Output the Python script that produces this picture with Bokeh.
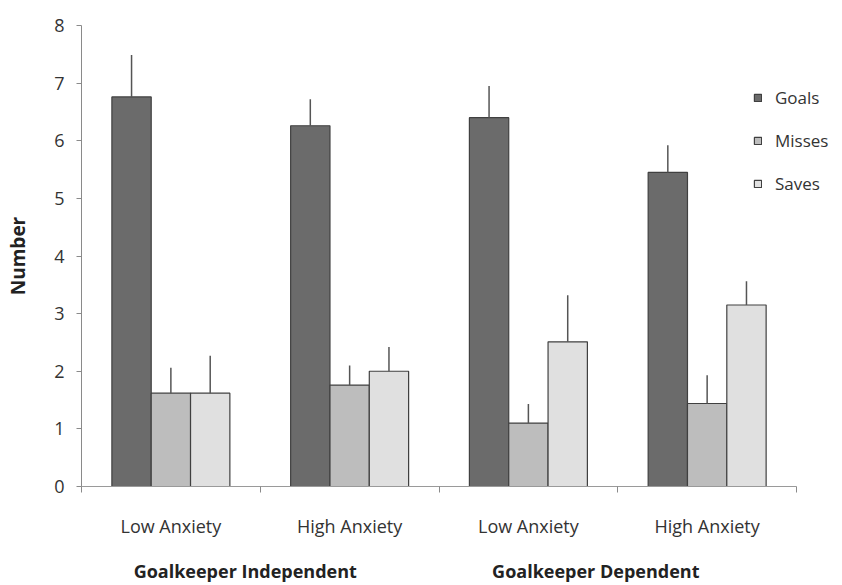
from bokeh.plotting import figure
from bokeh.models import (ColumnDataSource, Range1d, LinearAxis, FixedTicker,
                          Legend, LegendItem)
from bokeh.embed import file_html
from bokeh.resources import INLINE

conditions = ["Low Anxiety", "High Anxiety", "Low Anxiety", "High Anxiety"]
groups = ["Goalkeeper Independent", "Goalkeeper Dependent"]
series = ["Goals", "Misses", "Saves"]
goals = [6.76, 6.26, 6.40, 5.45]
goals_err = [0.73, 0.46, 0.55, 0.47]
misses = [1.62, 1.76, 1.10, 1.44]
misses_err = [0.44, 0.34, 0.33, 0.49]
saves = [1.62, 2.00, 2.51, 3.15]
saves_err = [0.65, 0.42, 0.81, 0.41]

colors = ["#6b6b6b", "#bdbdbd", "#e0e0e0"]
FONT = "Open Sans"

p = figure(width=840, height=585, output_backend="svg", toolbar_location=None,
           x_range=Range1d(0, 4.246), y_range=Range1d(0, 8),
           min_border_left=81, min_border_right=0, min_border_top=25,
           min_border_bottom=82, x_axis_location=None, y_axis_location=None)
p.xgrid.visible = False
p.ygrid.visible = False
p.outline_line_color = None

width = 0.22
offsets = [-width, 0.0, width]
renderers = []
for vals, errs, col, off in zip([goals, misses, saves],
                                [goals_err, misses_err, saves_err],
                                colors, offsets):
    xs = [i + 0.5 + off for i in range(len(conditions))]
    src = ColumnDataSource(dict(x=xs, top=vals,
                                etop=[v + e for v, e in zip(vals, errs)]))
    r = p.vbar(x="x", top="top", width=width, bottom=0, source=src,
               fill_color=col, line_color="#404040", line_width=1.2)
    p.segment(x0="x", y0="top", x1="x", y1="etop", source=src,
              line_color="#555555", line_width=1.5)
    renderers.append(r)

# y axis
yax = LinearAxis(ticker=FixedTicker(ticks=list(range(0, 9))))
yax.axis_line_color = "#8a8a8a"
yax.major_tick_line_color = "#8a8a8a"
yax.major_tick_out = 5
yax.major_tick_in = 0
yax.minor_tick_line_color = None
yax.major_label_text_font = FONT
yax.major_label_text_font_size = "18px"
yax.major_label_text_color = "#333333"
yax.major_label_standoff = 12
yax.axis_label = "Number"
yax.axis_label_text_font = FONT
yax.axis_label_text_font_style = "bold"
yax.axis_label_text_font_size = "19px"
yax.axis_label_text_color = "#222222"
yax.axis_label_standoff = 20
p.add_layout(yax, "left")

# x axis: condition labels at centres, boundary ticks as minor ticks
cax = LinearAxis(ticker=FixedTicker(ticks=[0.5, 1.5, 2.5, 3.5],
                                    minor_ticks=[0, 1, 2, 3, 4]),
                 bounds=(0, 4),
                 major_label_overrides={0.5 + i: c for i, c in enumerate(conditions)})
cax.axis_line_color = "#9a9a9a"
cax.major_tick_line_color = None
cax.major_tick_out = 0
cax.major_tick_in = 0
cax.minor_tick_line_color = "#8a8a8a"
cax.minor_tick_out = 6
cax.minor_tick_in = 0
cax.major_label_text_font = FONT
cax.major_label_text_font_size = "18px"
cax.major_label_text_color = "#333333"
cax.major_label_standoff = 21
p.add_layout(cax, "below")

# group labels
group_pos = [0.916, 2.877]
gax = LinearAxis(ticker=FixedTicker(ticks=group_pos),
                 major_label_overrides={g: t for g, t in zip(group_pos, groups)})
gax.axis_line_color = None
gax.major_tick_line_color = None
gax.minor_tick_line_color = None
gax.major_label_text_font = FONT
gax.major_label_text_font_size = "18px"
gax.major_label_text_font_style = "bold"
gax.major_label_text_color = "#222222"
gax.major_label_standoff = 12
p.add_layout(gax, "below")

legend = Legend(items=[LegendItem(label=s, renderers=[r]) for s, r in zip(series, renderers)],
                location=(672, 291), orientation="vertical")
legend.glyph_width = 9
legend.glyph_height = 9
legend.label_standoff = 13
legend.label_text_font = FONT
legend.label_text_font_size = "17px"
legend.label_text_color = "#333333"
legend.label_height = 20
legend.spacing = 20
legend.padding = 0
legend.margin = 0
legend.border_line_color = None
legend.background_fill_alpha = 0
p.add_layout(legend, "center")

open("out.html", "w").write(file_html(p, INLINE))
